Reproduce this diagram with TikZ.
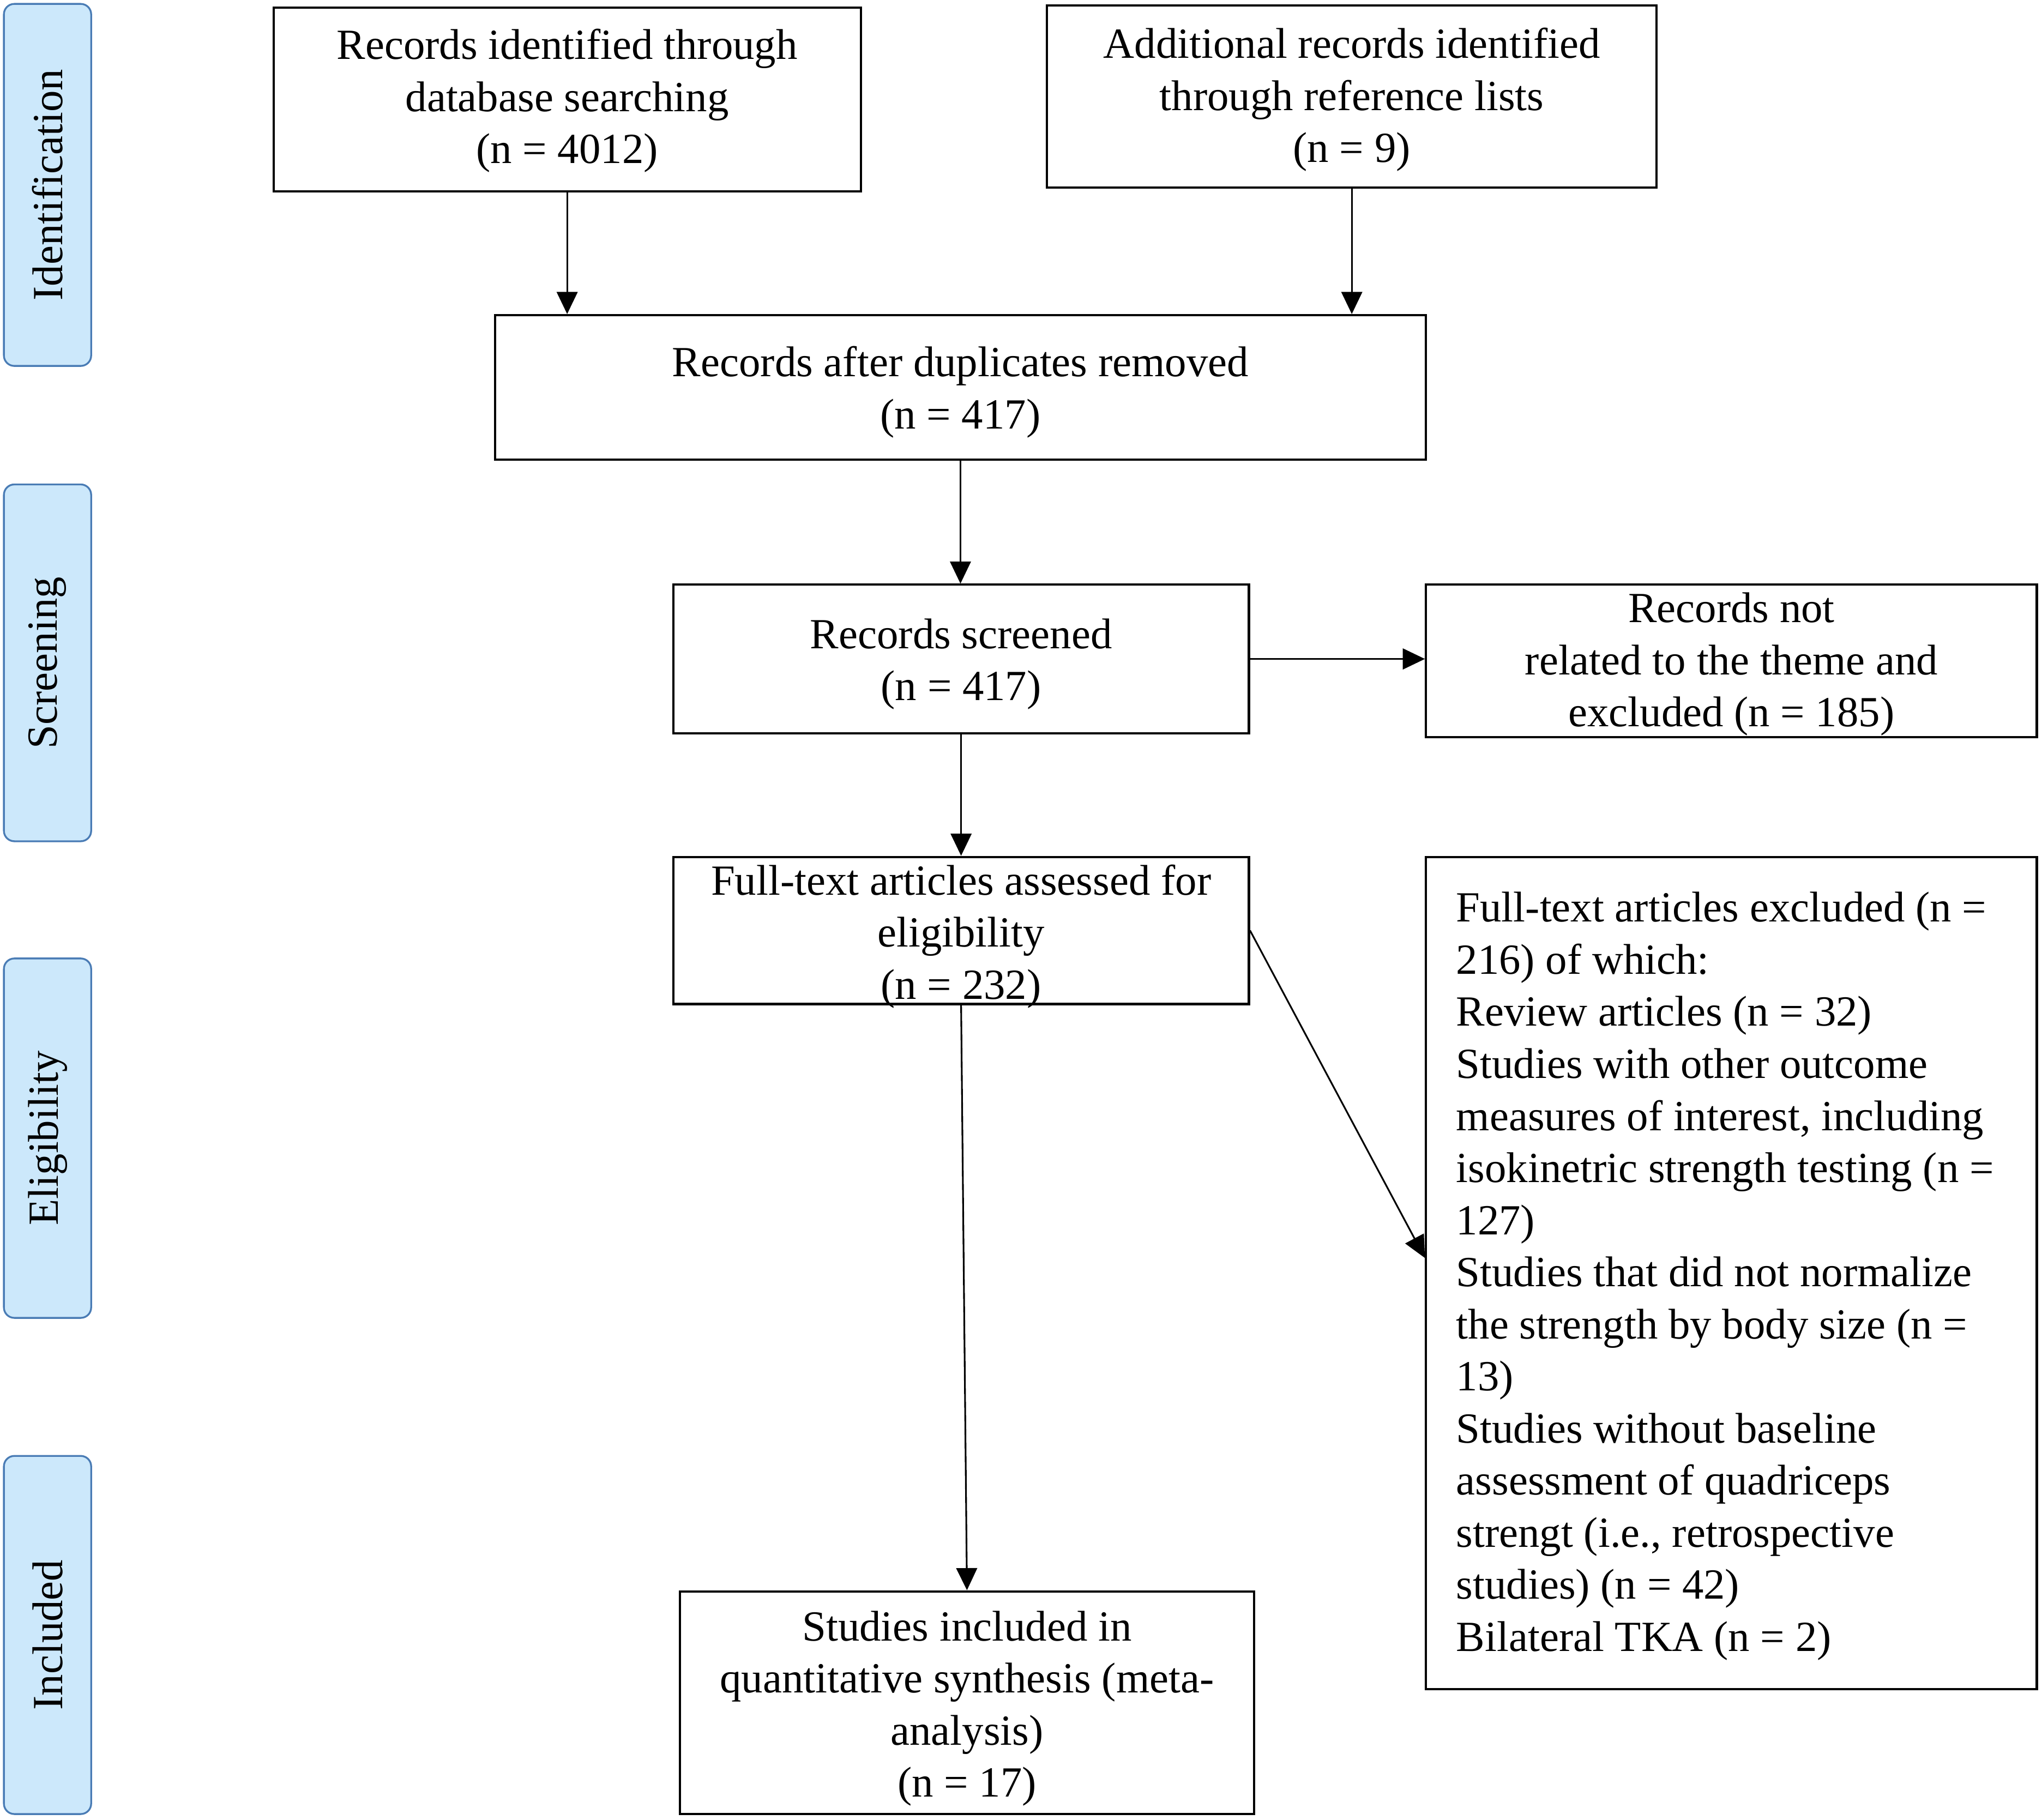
\documentclass[tikz,border=0pt]{standalone}
\usepackage{fontspec}
\setmainfont{Liberation Serif}
\usetikzlibrary{arrows.meta}
\definecolor{sidefill}{RGB}{204,232,251}
\definecolor{sidedraw}{RGB}{74,124,181}
\tikzset{
  every node/.style={font=\fontsize{33}{40}\selectfont},
  boxshape/.style={draw=black, line width=1.7pt, fill=white, inner sep=0pt},
  boxtext/.style={align=center, inner sep=0pt},
  sidebox/.style={draw=sidedraw, fill=sidefill, line width=1.4pt, rounded corners=8pt,
    rotate=90, inner sep=0pt, minimum height=67pt},
  arr/.style={line width=1.3pt, -{Triangle[length=17pt,width=16pt]}}
}
\begin{document}
\begin{tikzpicture}[x=1pt,y=-1pt]
\useasboundingbox (0,0) rectangle (1568,1397.2);
% side labels
\node[sidebox, minimum width=278pt] (sid) at (36.5,142) {Identification};
\node[sidebox, minimum width=274pt] (scr) at (36.5,509) {Screening};
\node[sidebox, minimum width=276pt] (eli) at (36.5,874) {Eligibility};
\node[sidebox, minimum width=275pt] (inc) at (36.5,1255.5) {Included};
% boxes
\node[boxshape, minimum width=451pt, minimum height=141pt] (b1) at (435.5,76.5) {};
\node[boxtext] (t1) at ([yshift=-1pt]b1.center) {Records identified through\\database searching\\(n = 4012)};
\node[boxshape, minimum width=468pt, minimum height=140pt] (b2) at (1038,74) {};
\node[boxtext] (t2) at ([yshift=-2.5pt]b2.center) {Additional records identified\\through reference lists\\(n = 9)};
\node[boxshape, minimum width=715pt, minimum height=111pt] (b3) at (737.5,297.5) {};
\node[boxtext] (t3) at ([yshift=-3.5pt]b3.center) {Records after duplicates removed\\(n = 417)};
\node[boxshape, minimum width=442pt, minimum height=114pt] (b4) at (738,506) {};
\node[boxtext] (t4) at ([yshift=-4pt]b4.center) {Records screened\\(n = 417)};
\node[boxshape, minimum width=469pt, minimum height=117pt] (b5) at (1329.5,507.5) {};
\node[boxtext] (t5) at ([yshift=-2.5pt]b5.center) {Records not\\related to the theme and\\excluded (n = 185)};
\node[boxshape, minimum width=442pt, minimum height=113pt] (b6) at (738,714.5) {};
\node[boxtext] (t6) at ([yshift=-4.5pt]b6.center) {Full-text articles assessed for\\eligibility\\(n = 232)};
\node[boxshape, minimum width=469pt, minimum height=639pt] (b7) at (1329.5,977.5) {};
\node[align=left, inner sep=0pt, anchor=west] (t7) at (1118,980) {Full-text articles excluded (n =\\216) of which:\\Review articles (n = 32)\\Studies with other outcome\\measures of interest, including\\isokinetric strength testing (n =\\127)\\Studies that did not normalize\\the strength by body size (n =\\13)\\Studies without baseline\\assessment of quadriceps\\strengt (i.e., retrospective\\studies) (n = 42)\\Bilateral TKA (n = 2)};
\node[boxshape, minimum width=441pt, minimum height=171pt] (b8) at (742.5,1307.5) {};
\node[boxtext] (t8) at ([yshift=-4.5pt]b8.center) {Studies included in\\quantitative synthesis (meta-\\analysis)\\(n = 17)};
% connectors
\draw[arr] (b1.south) -- (b1.south |- b3.north);
\draw[arr] (b2.south) -- (b2.south |- b3.north);
\draw[arr] (b3.south) -- (b3.south |- b4.north);
\draw[arr] (b4.east) -- (b4.east -| b5.west);
\draw[arr] (b4.south) -- (b6.north);
\draw[arr] (b6.east) -- ([yshift=11.5pt]b7.west);
\draw[arr] (b6.south) -- (b8.north);
\end{tikzpicture}
\end{document}
